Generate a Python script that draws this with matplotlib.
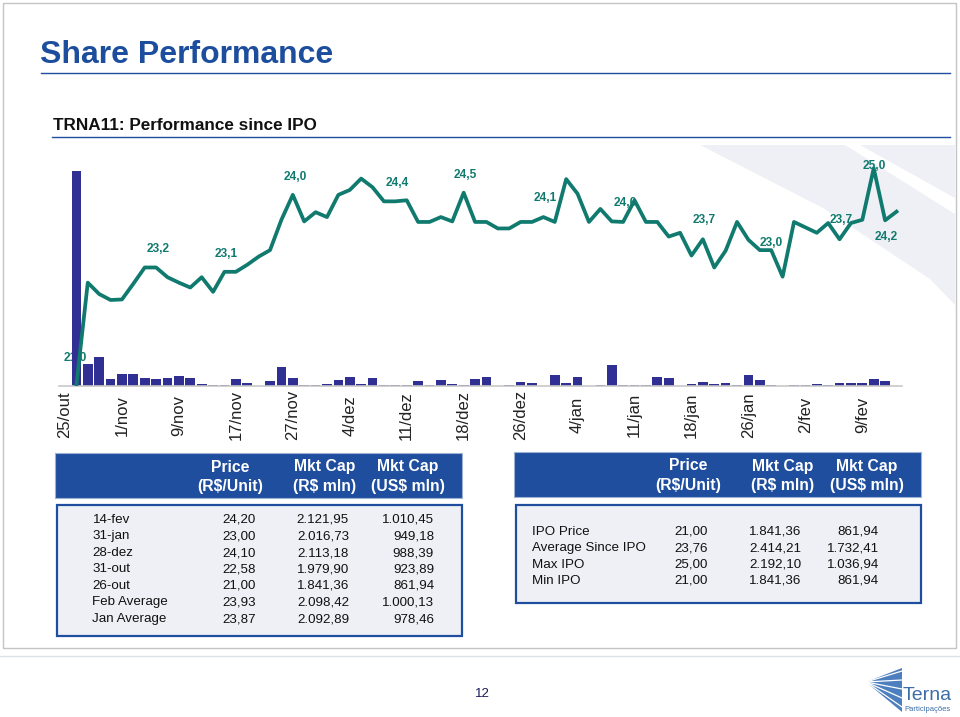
import numpy as np
import matplotlib
matplotlib.use("Agg")
import matplotlib.pyplot as plt
from matplotlib.patches import Rectangle, Polygon

plt.rcParams['font.family'] = ['Liberation Sans', 'DejaVu Sans']

# ---------------- data ----------------
tick_labels = ['25/out', '1/nov', '9/nov', '17/nov', '27/nov', '4/dez', '11/dez', '18/dez',
               '26/dez', '4/jan', '11/jan', '18/jan', '26/jan', '2/fev', '9/fev']
tick_step = 5

price = [np.nan, 21.00, 22.89, 22.68, 22.57, 22.58, 22.87, 23.17, 23.17, 22.99,
         22.89, 22.80, 22.99, 22.72, 23.09, 23.09, 23.22, 23.37, 23.49, 24.05,
         24.51, 24.02, 24.19, 24.10, 24.51, 24.60, 24.81, 24.65, 24.39, 24.39,
         24.41, 24.01, 24.01, 24.10, 24.02, 24.55, 24.01, 24.01, 23.89, 23.89,
         24.01, 24.01, 24.10, 24.01, 24.80, 24.53, 24.01, 24.25, 24.02, 24.01,
         24.41, 24.01, 24.01, 23.74, 23.81, 23.39, 23.69, 23.17, 23.48, 24.01,
         23.68, 23.49, 23.49, 23.00, 24.01, 23.91, 23.81, 23.99, 23.69, 23.99,
         24.05, 25.00, 24.04, 24.20]

volume = [0, 215, 22, 29.3, 7.3, 11.7, 11.7, 8.3, 7.3, 8.3,
          10.3, 8.3, 2, 0.7, 0.7, 7.3, 3.3, 0, 4.7, 19,
          8.3, 1, 1, 2, 5.7, 9.5, 2, 8.5, 1, 1.5,
          0.7, 4.7, 0.7, 5.7, 2, 0.7, 7.3, 9, 0, 1,
          4.3, 3.3, 0, 11.5, 3, 9, 0, 1, 21, 1,
          1, 1, 9, 8, 0, 1.7, 4, 2, 3.3, 1,
          11.5, 6, 1, 0, 1, 1, 2, 1, 3.3, 3.3,
          3.3, 7.3, 5.5, 0]

# data labels shown on the price line: text and the point they belong to
label_texts = ['21,0', '23,2', '23,1', '24,0', '24,4', '24,5', '24,1', '24,0',
               '23,7', '23,0', '23,7', '25,0', '24,2']
label_index = [1, 8, 14, 20, 29, 35, 42, 49, 56, 62, 68, 71, 72]

left_rows = ['14-fev', '31-jan', '28-dez', '31-out', '26-out', 'Feb Average', 'Jan Average']
left_price = [24.20, 23.00, 24.10, 22.58, 21.00, 23.93, 23.87]
left_mcap_brl = [2121.95, 2016.73, 2113.18, 1979.90, 1841.36, 2098.42, 2092.89]
left_mcap_usd = [1010.45, 949.18, 988.39, 923.89, 861.94, 1000.13, 978.46]

right_rows = ['IPO Price', 'Average Since IPO', 'Max IPO', 'Min IPO']
right_price = [21.00, 23.76, 25.00, 21.00]
right_mcap_brl = [1841.36, 2414.21, 2192.10, 1841.36]
right_mcap_usd = [861.94, 1732.41, 1036.94, 861.94]

header_top = ['Price', 'Mkt Cap', 'Mkt Cap']
header_bottom = ['(R$/Unit)', '(R$ mln)', '(US$ mln)']


def br(v):
    s = f"{v:,.2f}"
    return s.replace(',', 'X').replace('.', ',').replace('X', '.')


# ---------------- layout / style ----------------
W, H = 960, 717
TEAL = '#107a6e'
BARC = '#303094'
BLUE = '#1f4e9f'

fig = plt.figure(figsize=(W / 100, H / 100), dpi=100)
fig.patch.set_facecolor('white')

bg = fig.add_axes([0, 0, 1, 1], zorder=-10)
bg.set_xlim(0, W)
bg.set_ylim(H, 0)
bg.axis('off')

# faint watermark bands (upper right)
bg.add_patch(Polygon([(700, 145), (955, 145), (955, 305), (930, 279), (823, 208)],
                     closed=True, facecolor='#eef0f5', edgecolor='none'))
bg.add_patch(Polygon([(845, 145), (860, 145), (955, 198), (955, 214)],
                     closed=True, facecolor='white', edgecolor='none'))

# slide frame
bg.add_patch(Rectangle((3, 3), 953, 645, facecolor='none', edgecolor='#c4c4c4', lw=1))
bg.plot([0, 960], [656, 656], color='#dde2ea', lw=1)

# titles
bg.text(40, 63, 'Share Performance', fontsize=23, fontweight='bold', color='#1d4e9e',
        va='baseline', ha='left')
bg.plot([41, 950], [73, 73], color=BLUE, lw=1.0)
bg.text(53, 129.5, 'TRNA11: Performance since IPO', fontsize=12.3, fontweight='bold',
        color='#111111', va='baseline', ha='left')
bg.plot([52, 950], [137, 137], color=BLUE, lw=1.0)

# ---------------- chart ----------------
x0, x1 = 59.3, 902.2
ytop, ybot = 160, 386
ax_v = fig.add_axes([x0 / W, 1 - ybot / H, (x1 - x0) / W, (ybot - ytop) / H])
ax_v.patch.set_visible(False)
idx = np.arange(len(price))
ax_v.bar(idx, volume, width=0.85, color=BARC, zorder=2)
ax_v.set_xlim(-0.5, len(price) - 0.5)
ax_v.set_ylim(0, 226)
for s in ['top', 'left', 'right']:
    ax_v.spines[s].set_visible(False)
ax_v.spines['bottom'].set_color('#c8c8c8')
ax_v.spines['bottom'].set_linewidth(1.2)
ax_v.set_yticks([])
ax_v.set_xticks(np.arange(0, len(tick_labels) * tick_step, tick_step))
ax_v.set_xticklabels(tick_labels, rotation=90, fontsize=12, color='#222222')
for t in ax_v.get_xticklabels():
    t.set_verticalalignment('center')
    t.set_horizontalalignment('center')
ax_v.tick_params(axis='x', length=0, pad=21)

ax_p = ax_v.twinx()
ax_p.set_ylim(20.983, 25.153)
ax_p.plot(idx, price, color=TEAL, lw=2.7, zorder=3)
ax_p.axis('off')

# label offsets in pixels (dx, dy; dy negative = above)
label_offsets = [(-1.4, -27), (2, -18), (1.5, -18), (3, -18), (2, -18.5), (2, -18),
                 (1.6, -19), (2, -19), (1.5, -19), (0.5, -7.6), (2, -19.7), (1, -2.6),
                 (1, 16.7)]
for txt, i, (dx, dy) in zip(label_texts, label_index, label_offsets):
    host = ax_v if i == 1 else ax_p
    host.annotate(txt, xy=(i, price[i]), xycoords=ax_p.transData,
                  xytext=(dx * 0.72, -dy * 0.72), textcoords='offset points',
                  ha='center', va='center', fontsize=8.6, fontweight='bold',
                  color=TEAL, zorder=1 if i == 1 else 2)

# ---------------- tables ----------------
def table(hx, hy, hw, hh, by, bh, col_centers, rows, cols, label_x, col_right, row_y):
    bg.add_patch(Rectangle((hx, hy), hw, hh, facecolor=BLUE, edgecolor='#9fb1d3', lw=0.8))
    for cx, t1, t2 in zip(col_centers, header_top, header_bottom):
        bg.text(cx, hy + 14.5, t1, color='white', fontsize=11.3, fontweight='bold',
                ha='center', va='center')
        bg.text(cx, hy + 34, t2, color='white', fontsize=11.3, fontweight='bold',
                ha='center', va='center')
    bg.add_patch(Rectangle((hx + 2, by), hw - 2, bh, facecolor='#eef0f6',
                           edgecolor=BLUE, lw=1.6))
    for r, name in enumerate(rows):
        y = row_y[0] + r * row_y[1]
        bg.text(label_x, y, name, fontsize=9.6, ha='left', va='center', color='#111111')
        for c, vals in enumerate(cols):
            bg.text(col_right[c], y, br(vals[r]), fontsize=9.6, ha='right', va='center',
                    color='#111111')


table(55, 452.5, 407, 45.5, 505, 131, [230, 325, 408], left_rows,
      [left_price, left_mcap_brl, left_mcap_usd], 92.5, [256, 349, 434], (520, 16.5))
table(514, 451.5, 407, 45.5, 505, 98, [688, 783, 867], right_rows,
      [right_price, right_mcap_brl, right_mcap_usd], 532.5, [707.5, 801, 879], (532, 16.3))

# ---------------- footer ----------------
bg.text(482, 694, '12', fontsize=9.5, color='#1a1a5e', ha='center', va='center')
bg.add_patch(Polygon([(866, 682), (902, 668), (902, 712)], closed=True,
                     facecolor='#4d7fbf', edgecolor='none'))
for k in range(5):
    bg.plot([866, 902], [682, 671 + k * 9], color='white', lw=0.9)
bg.text(903, 700, 'Terna', fontsize=14, color='#3d6ea8', ha='left', va='baseline')
bg.text(904, 711, 'Participações', fontsize=5.5, color='#3d6ea8', ha='left', va='baseline')

fig.savefig('out.png', dpi=100)
